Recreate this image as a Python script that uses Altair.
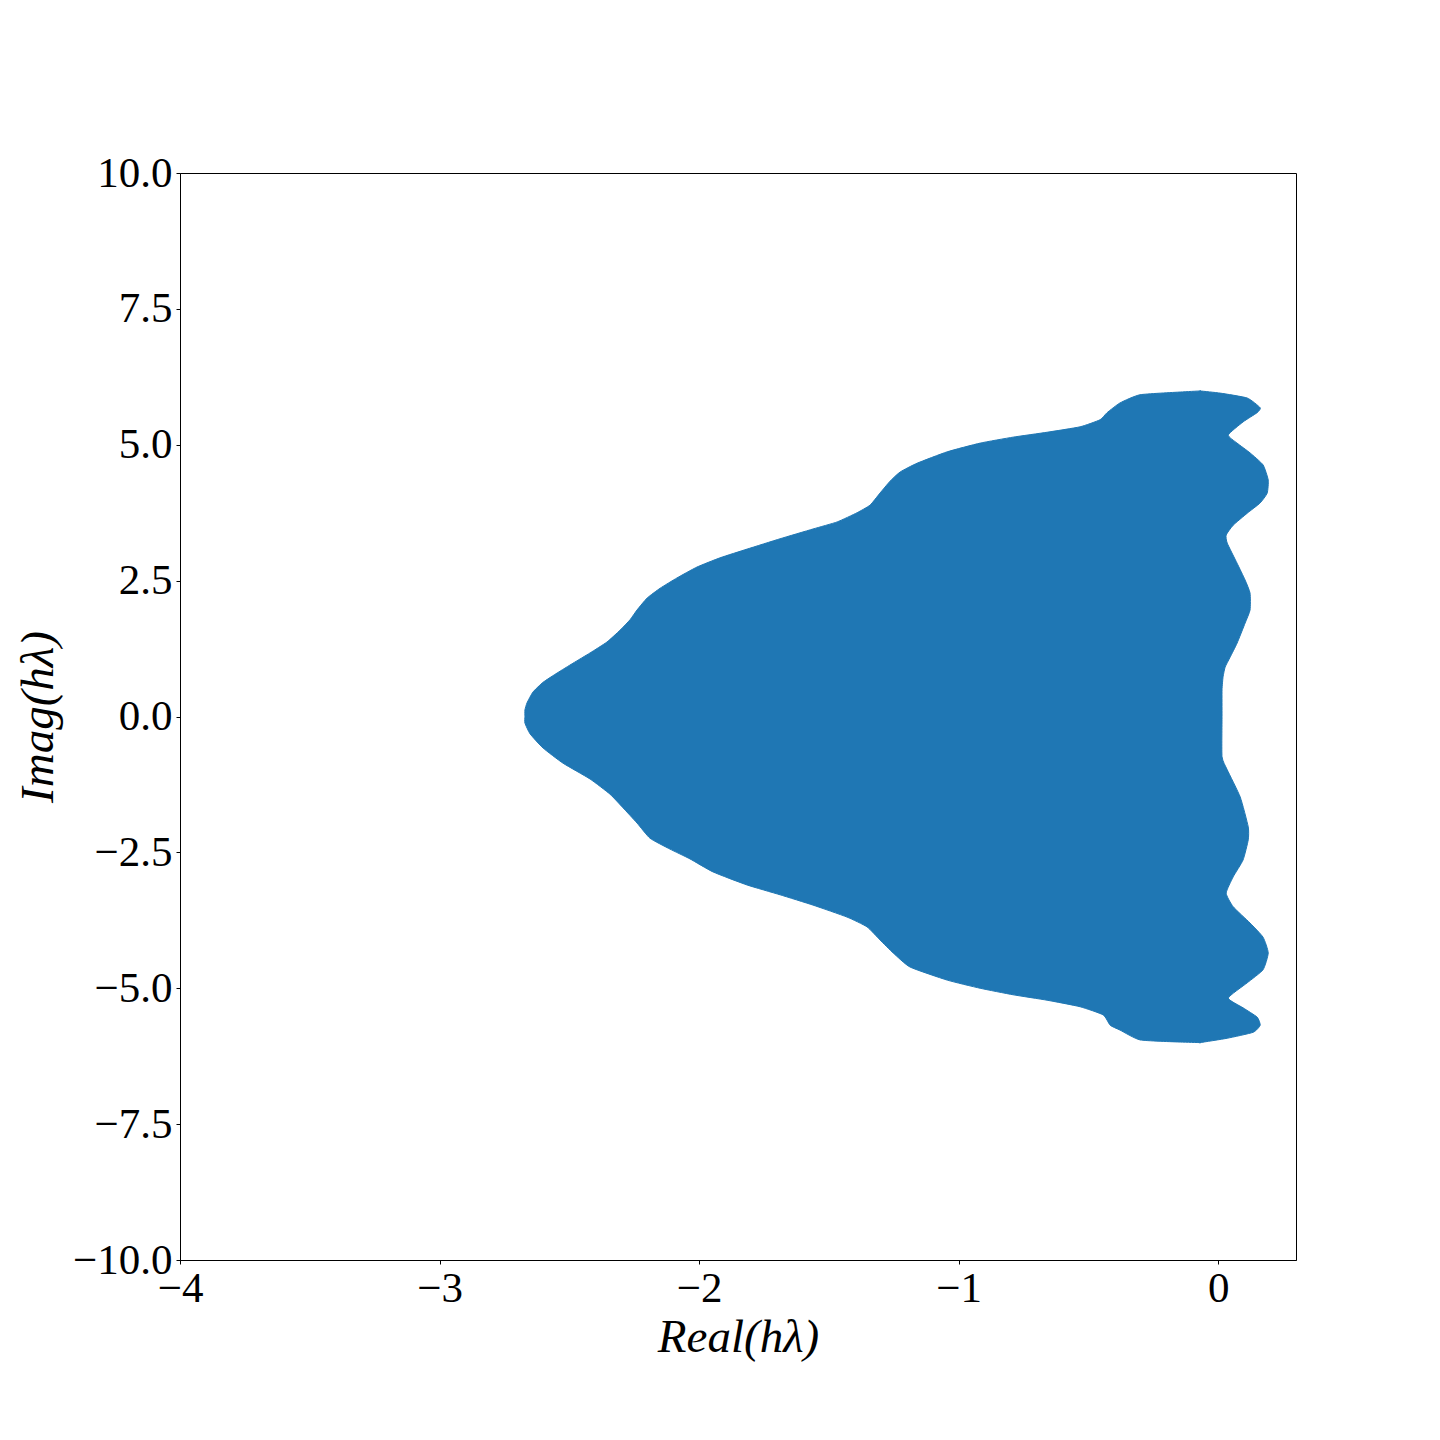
import altair as alt
import pandas as pd

# Left (western) edge of the stability region, (imag, real) pairs, bottom to top
left_imag = [-6.00, -5.99, -5.95, -5.77, -5.68, -5.49, -5.34, -5.22, -5.12, -5.00, -4.85, -4.61,
             -4.35, -4.11, -3.87, -3.69, -3.47, -3.28, -3.10, -2.86, -2.62, -2.44, -2.24, -1.96,
             -1.68, -1.43, -1.15, -0.86, -0.58, -0.32, -0.12, 0.00,
             0.12, 0.25, 0.45, 0.63, 0.80, 0.98, 1.17, 1.37, 1.59, 1.78, 1.96, 2.18, 2.36, 2.55,
             2.75, 2.92, 3.08, 3.27, 3.45, 3.58, 3.75, 3.89, 4.11, 4.33, 4.50, 4.66, 4.87, 5.03,
             5.14, 5.23, 5.33, 5.46, 5.59, 5.77, 5.92, 5.97, 5.99]
left_real = [-0.069, -0.146, -0.301, -0.378, -0.416, -0.443, -0.532, -0.659, -0.790, -0.917, -1.044, -1.187,
             -1.252, -1.303, -1.353, -1.430, -1.561, -1.688, -1.815, -1.946, -2.035, -2.112, -2.189, -2.239,
             -2.293, -2.343, -2.420, -2.524, -2.601, -2.651, -2.671, -2.671,
             -2.671, -2.663, -2.640, -2.601, -2.547, -2.486, -2.420, -2.355, -2.304, -2.266, -2.239, -2.200, -2.150, -2.085,
             -2.008, -1.919, -1.815, -1.688, -1.561, -1.468, -1.391, -1.341, -1.303, -1.264, -1.225, -1.160, -1.044, -0.917,
             -0.790, -0.659, -0.532, -0.455, -0.428, -0.378, -0.301, -0.146, -0.069]

# Right (eastern) edge of the stability region, top to bottom
right_imag = [5.99, 5.95, 5.86, 5.68, 5.59, 5.42, 5.18, 5.03, 4.85, 4.63, 4.35, 4.11,
              3.93, 3.74, 3.52, 3.34, 3.19, 2.82, 2.51, 2.27, 1.96, 1.72, 1.35, 1.09,
              0.91, 0.73, 0.49, 0.00,
              -0.74, -0.98, -1.48, -2.03, -2.27, -2.64, -2.95, -3.25, -3.50, -3.80, -4.06, -4.35,
              -4.66, -4.90, -5.18, -5.36, -5.53, -5.68, -5.81, -5.92, -6.00]
right_real = [-0.069, 0.008, 0.112, 0.162, 0.150, 0.096, 0.039, 0.073, 0.123, 0.173, 0.193, 0.189,
              0.162, 0.112, 0.058, 0.031, 0.035, 0.073, 0.104, 0.123, 0.123, 0.104, 0.073, 0.046,
              0.027, 0.019, 0.015, 0.015,
              0.015, 0.035, 0.085, 0.116, 0.116, 0.096, 0.058, 0.031, 0.058, 0.123, 0.173, 0.193,
              0.173, 0.112, 0.039, 0.096, 0.150, 0.162, 0.135, 0.035, -0.069]

x_ticks = [-4, -3, -2, -1, 0]
y_ticks = [-10.0, -7.5, -5.0, -2.5, 0.0, 2.5, 5.0, 7.5, 10.0]

# Closed outline: up the left edge, then down the right edge
poly_real = left_real + right_real
poly_imag = left_imag + right_imag
df = pd.DataFrame({"real": poly_real, "imag": poly_imag, "idx": list(range(len(poly_real)))})

BLUE = "#1f77b4"
FONT = "Liberation Serif"

xscale = alt.Scale(domain=[-4, 0.3], nice=False, zero=False)
yscale = alt.Scale(domain=[-10, 10], nice=False, zero=False)

xaxis = alt.Axis(values=x_ticks, format="d", title="Real(hλ)", grid=False,
                 labelFont=FONT, labelFontSize=43, labelColor="black", labelPadding=3,
                 titleFont=FONT, titleFontSize=47, titleFontStyle="italic", titleFontWeight="normal",
                 titleColor="black", titlePadding=4, tickSize=4, tickColor="black",
                 domainColor="black", labelFlush=False)
yaxis = alt.Axis(values=y_ticks, format=".1f", title="Imag(hλ)", grid=False,
                 labelFont=FONT, labelFontSize=43, labelColor="black", labelPadding=4,
                 titleFont=FONT, titleFontSize=47, titleFontStyle="italic", titleFontWeight="normal",
                 titleColor="black", titlePadding=10, tickSize=4, tickColor="black",
                 domainColor="black", labelFlush=False)

shape = alt.Chart(df).mark_line(
    fill=BLUE, stroke=BLUE, strokeWidth=1, fillOpacity=1,
    interpolate="cardinal-closed", tension=0.5
).encode(
    x=alt.X("real:Q", scale=xscale, axis=xaxis),
    y=alt.Y("imag:Q", scale=yscale, axis=yaxis),
    order=alt.Order("idx:Q"),
)

chart = shape.properties(
    width=1116, height=1087,
    background="white",
    autosize=alt.AutoSizeParams(type="none"),
    padding={"left": 172, "top": 165, "right": 130, "bottom": 160},
).configure_view(
    stroke="black", strokeWidth=1
)

chart.save("out.html", embed_options={"renderer": "svg", "actions": False})
